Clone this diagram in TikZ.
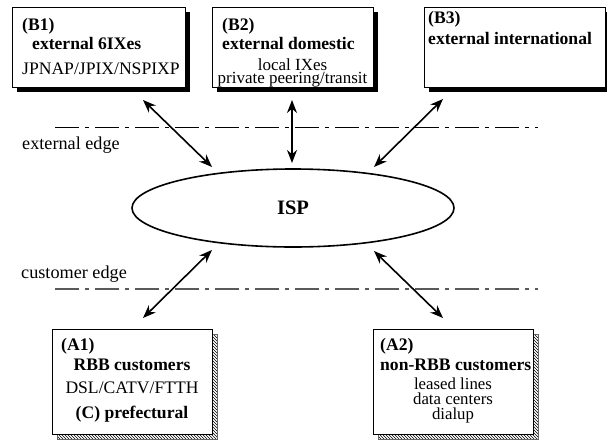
\documentclass[tikz,border=0pt]{standalone}
\usepackage{fontspec}
\setmainfont{Liberation Serif}
\usetikzlibrary{arrows.meta,patterns,shapes.geometric}
\begin{document}
\begin{tikzpicture}[x=1pt,y=-1pt,
  box/.style={draw=black,line width=0.9pt,fill=white,inner sep=0pt,anchor=north west},
  bshadow/.style={fill=black},
  hshadow/.style={pattern=north west lines,draw=black!60,line width=0.3pt},
  txt/.style={font=\fontsize{17.6}{17.6}\selectfont,inner sep=0pt},
  btxt/.style={font=\fontsize{17.6}{17.6}\selectfont\bfseries,inner sep=0pt},
  tight/.style={inner sep=0pt,align=center},
  lbl/.style={font=\fontsize{18.2}{18.2}\selectfont,inner sep=0pt,anchor=base west},
  conn/.style={line width=1.6pt,{Stealth[length=13pt,width=10pt]}-{Stealth[length=13pt,width=10pt]}},
  edgeline/.style={line width=1pt,dash pattern=on 24pt off 6pt on 4pt off 6pt}
]
\useasboundingbox (0,0) rectangle (607,439);

% edges
\draw[edgeline,black] (55,127) -- (538,127);
\draw[edgeline,black!65,line width=1.3pt] (55,289) -- (538,289);
\node[lbl] (extedge) at (22,149) {external edge};
\node[lbl] (custedge) at (21,278) {customer edge};

% top boxes with black shadows
\fill[bshadow] (17,12) rectangle (190,92);
\fill[bshadow] (217,12) rectangle (378,92);
\fill[bshadow] (429,12) rectangle (610,92);
\node[box,minimum width=173pt,minimum height=80pt] (b1) at (12,7) {};
\node[box,minimum width=161pt,minimum height=80pt] (b2) at (212,7) {};
\node[box,minimum width=181pt,minimum height=80pt] (b3) at (424,7) {};

\node[btxt,anchor=base west] (b1a) at (22,30) {(B1)};
\node[btxt,anchor=base west] (b1b) at (32,49) {external 6IXes};
\node[txt,anchor=base west] (b1c) at (22,74) {JPNAP/JPIX/NSPIXP};

\node[btxt,anchor=base west] (b2a) at (222,30) {(B2)};
\node[btxt,anchor=base west] (b2b) at (222,49) {external domestic};
\node[tight,font=\fontsize{17}{13}\selectfont,anchor=base] (b2c) at (292.5,83) {local IXes\\private peering/transit};

\node[btxt,anchor=base west] (b3a) at (428,23) {(B3)};
\node[btxt,anchor=base west] (b3b) at (428,44) {external international};

% bottom boxes with hatched shadows
\filldraw[hshadow] (57,334) rectangle (217,439);
\filldraw[hshadow] (378,334) rectangle (538,439);
\node[box,minimum width=160pt,minimum height=105pt] (a1) at (52,329) {};
\node[box,minimum width=160pt,minimum height=105pt] (a2) at (373,329) {};

\node[btxt,anchor=base west] (a1a) at (61,350) {(A1)};
\node[btxt,anchor=base] (a1b) at (132,370) {RBB customers};
\node[txt,anchor=base] (a1c) at (132,393) {DSL/CATV/FTTH};
\node[btxt,anchor=base] (a1d) at (132,418) {(C) prefectural};

\node[btxt,anchor=base west] (a2a) at (380,350) {(A2)};
\node[btxt,anchor=base west] (a2b) at (380,370) {non-RBB customers};
\node[tight,font=\fontsize{16.8}{15}\selectfont,anchor=base] (a2c) at (453,419) {leased lines\\data centers\\dialup};

% ISP
\node[ellipse,draw,line width=1.6pt,minimum width=322pt,minimum height=78pt,inner sep=0pt,
  font=\fontsize{20.5}{20.5}\selectfont\bfseries] (isp) at (293,208) {ISP};

% connector ends
\coordinate (b1e) at (143,100);
\coordinate (b1i) at (212,167);
\coordinate (b2e) at (292,100);
\coordinate (b2i) at (292,163);
\coordinate (b3e) at (443,99);
\coordinate (b3i) at (374,167);
\coordinate (a1e) at (143,318);
\coordinate (a1i) at (212,250);
\coordinate (a2e) at (443,318);
\coordinate (a2i) at (374,251);

\draw[conn] (b1e) -- (b1i);
\draw[conn] (b2e) -- (b2i);
\draw[conn] (b3e) -- (b3i);
\draw[conn] (a1e) -- (a1i);
\draw[conn] (a2e) -- (a2i);
\end{tikzpicture}
\end{document}
